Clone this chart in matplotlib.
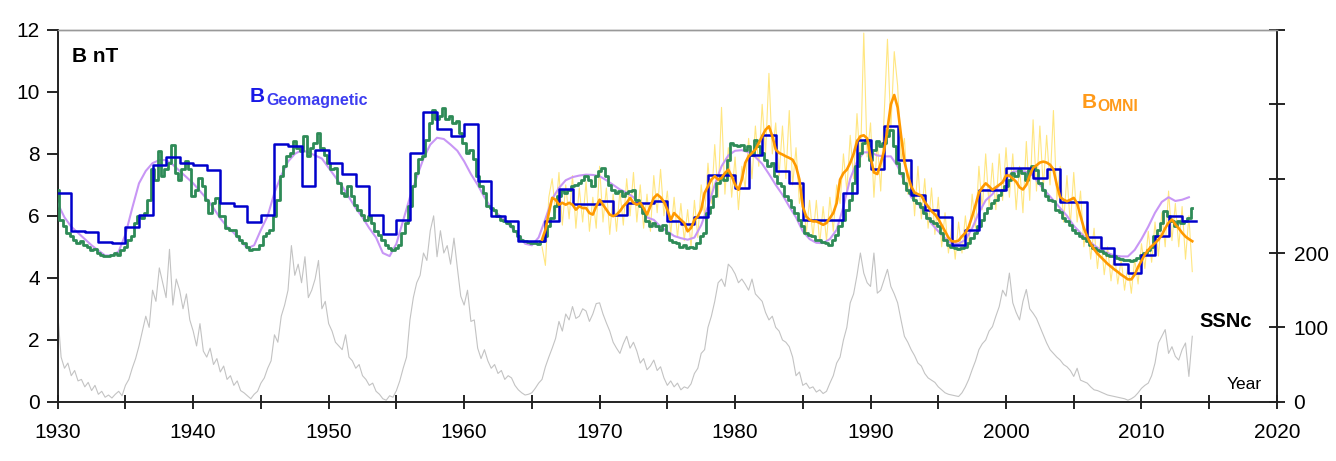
import numpy as np
import matplotlib
matplotlib.use("Agg")
import matplotlib.pyplot as plt

plt.rcParams['font.family'] = ['Liberation Sans', 'DejaVu Sans']

# ---------------- data ----------------
# Annual geomagnetic B (blue steps), one value per year 1930..2013
blue_years = list(range(1930, 2014))
blue_vals = [6.74, 5.52, 5.47, 5.17, 5.12, 5.63, 6.04, 7.65, 7.89, 7.71,
             7.65, 7.49, 6.43, 6.33, 5.79, 6.04, 8.33, 8.27, 6.95, 8.12,
             7.71, 7.35, 6.97, 6.02, 5.40, 5.85, 8.03, 9.34, 8.81, 8.58,
             8.97, 7.14, 5.98, 5.82, 5.20, 5.20, 5.84, 6.87, 6.38, 6.38,
             6.47, 6.04, 6.41, 6.42, 6.47, 5.82, 5.75, 5.96, 7.33, 7.33,
             6.90, 7.98, 8.60, 7.44, 7.05, 5.87, 5.87, 5.87, 6.74, 8.46,
             7.51, 8.89, 7.79, 6.68, 6.20, 5.96, 5.07, 5.53, 6.82, 6.82,
             7.55, 7.55, 7.21, 7.51, 6.45, 6.45, 5.33, 4.97, 4.45, 4.17,
             4.74, 5.34, 6.00, 5.82]

# Geomagnetic B, finer resolution (green), quarterly 1930.0..2013.75
green_start, green_step = 1930.0, 0.25
green_vals = [
    6.85, 5.88, 5.66, 5.45, 5.34, 5.23, 5.12, 5.18, 5.07, 5.01, 4.91, 4.93,
    4.80, 4.75, 4.69, 4.69, 4.75, 4.80, 4.75, 4.91, 5.01, 5.23, 5.34, 5.77,
    5.99, 5.93, 6.09, 6.52, 7.50, 7.17, 8.09, 7.28, 7.50, 7.71, 8.30, 7.39,
    7.17, 7.50, 7.76, 7.50, 6.63, 6.85, 7.22, 6.96, 6.52, 6.09, 6.42, 6.58,
    5.99, 5.99, 5.61, 5.55, 5.55, 5.34, 5.23, 5.12, 5.01, 4.91, 4.93, 4.93,
    5.07, 5.34, 5.45, 5.55, 5.99, 6.52, 7.28, 7.60, 7.92, 8.03, 8.41, 8.19,
    8.09, 8.57, 7.92, 8.19, 8.36, 8.68, 8.19, 7.98, 7.71, 7.50, 7.55, 7.06,
    6.74, 6.63, 6.96, 6.63, 6.36, 6.20, 6.04, 5.88, 5.99, 5.77, 5.50, 5.39,
    5.23, 5.07, 4.96, 4.91, 4.96, 5.07, 5.45, 5.77, 6.31, 6.96, 7.39, 7.82,
    7.92, 8.46, 9.00, 9.43, 9.11, 9.22, 9.49, 9.11, 9.22, 9.00, 9.06, 8.68,
    8.36, 8.03, 8.14, 7.82, 7.28, 6.96, 6.74, 6.31, 6.25, 6.20, 5.99, 5.88,
    5.82, 5.77, 5.66, 5.50, 5.34, 5.23, 5.18, 5.14, 5.12, 5.12, 5.10, 5.18,
    5.34, 5.66, 5.93, 6.31, 6.63, 6.85, 6.74, 6.85, 6.96, 7.01, 7.06, 7.17,
    7.28, 7.17, 6.96, 7.28, 7.44, 7.55, 7.28, 7.01, 6.85, 6.74, 6.79, 6.63,
    6.74, 6.79, 6.85, 6.52, 6.31, 6.09, 5.82, 5.66, 5.77, 5.66, 5.55, 5.71,
    5.44, 5.23, 5.17, 5.12, 5.01, 5.07, 4.96, 5.01, 4.96, 5.12, 5.34, 5.44,
    6.09, 6.30, 6.63, 7.06, 7.28, 7.17, 7.81, 8.35, 8.30, 8.25, 8.30, 8.14,
    8.25, 7.98, 8.46, 8.25, 8.03, 7.81, 7.60, 7.71, 7.28, 7.06, 6.95, 6.63,
    6.52, 6.30, 6.09, 5.87, 5.66, 5.44, 5.39, 5.34, 5.23, 5.23, 5.17, 5.12,
    5.07, 5.23, 5.39, 5.66, 5.87, 6.20, 6.52, 7.06, 7.60, 8.03, 8.35, 8.46,
    7.81, 8.14, 8.41, 8.25, 8.35, 8.57, 8.78, 8.25, 7.71, 7.38, 7.06, 6.84,
    6.74, 6.52, 6.41, 6.30, 6.09, 5.93, 5.82, 5.77, 5.66, 5.44, 5.23, 5.07,
    5.01, 4.96, 4.93, 4.96, 5.01, 5.12, 5.28, 5.44, 5.66, 5.87, 6.09, 6.25,
    6.41, 6.52, 6.68, 6.84, 6.95, 7.17, 7.38, 7.28, 7.49, 7.38, 7.17, 7.49,
    7.60, 7.49, 7.06, 6.84, 6.63, 6.52, 6.47, 6.20, 6.14, 5.93, 5.82, 5.72,
    5.55, 5.45, 5.34, 5.28, 5.18, 5.07, 4.96, 4.91, 4.85, 4.80, 4.75, 4.69,
    4.69, 4.64, 4.62, 4.58, 4.56, 4.53, 4.56, 4.64, 4.75, 4.80, 4.91, 5.01,
    5.34, 5.55, 5.77, 6.15, 5.99, 5.82, 5.66, 5.82, 5.77, 5.82, 5.93, 6.25]

# Smooth geomagnetic B (purple), half-yearly 1930.0..2013.5
purple_start, purple_step = 1930.0, 0.5
purple_vals = [
    6.40, 5.95, 5.65, 5.45, 5.25, 5.05, 4.88, 4.72, 4.72, 4.85,
    5.40, 6.25, 7.05, 7.45, 7.70, 7.80, 7.80, 7.65, 7.45, 7.25,
    7.05, 6.80, 6.55, 6.25, 5.92, 5.65, 5.45, 5.20, 4.95, 5.05,
    5.55, 6.00, 6.75, 7.30, 7.75, 8.00, 8.12, 8.05, 7.95, 7.85,
    7.55, 7.25, 6.95, 6.60, 6.25, 5.95, 5.60, 5.30, 4.80, 4.70,
    5.10, 5.85, 6.60, 7.25, 7.85, 8.30, 8.52, 8.48, 8.30, 8.10,
    7.76, 7.35, 7.00, 6.60, 6.25, 6.05, 5.87, 5.62, 5.39, 5.10,
    5.05, 5.30, 5.90, 6.55, 6.90, 7.15, 7.25, 7.30, 7.33, 7.32,
    7.28, 7.15, 7.00, 6.85, 6.75, 6.60, 6.35, 5.95, 5.87, 5.65,
    5.50, 5.35, 5.28, 5.23, 5.30, 5.70, 6.30, 7.00, 7.60, 7.95,
    8.10, 8.12, 8.05, 7.90, 7.68, 7.35, 7.00, 6.68, 6.30, 5.95,
    5.50, 5.25, 5.13, 5.12, 5.25, 5.55, 6.30, 7.20, 7.75, 8.05,
    8.05, 7.95, 7.92, 7.92, 7.60, 7.10, 6.60, 6.40, 6.10, 5.75,
    5.50, 5.28, 5.10, 5.10, 5.22, 5.60, 6.10, 6.50, 6.70, 7.00,
    7.20, 7.42, 7.45, 7.42, 7.30, 7.00, 6.75, 6.50, 6.25, 6.00,
    5.68, 5.45, 5.23, 5.05, 4.90, 4.80, 4.72, 4.69, 4.69, 4.90,
    5.25, 5.65, 6.10, 6.45, 6.60, 6.48, 6.52, 6.60]

# OMNI B smoothed (orange) and monthly-ish (yellow), quarterly 1965.75..2013.75
omni_start, omni_step = 1965.75, 0.25
orange_vals = [
    5.23,
    5.55, 6.09, 6.58, 6.52, 6.36, 6.42, 6.36, 6.42, 6.36, 6.20, 6.31, 6.25,
    6.25, 6.09, 6.04, 6.31, 6.52, 6.36, 6.20, 6.04, 5.99, 6.04, 6.15, 6.31,
    6.42, 6.58, 6.42, 6.36, 6.42, 6.25, 6.04, 6.31, 6.58, 6.69, 6.60, 6.45,
    6.20, 5.87, 6.09, 5.98, 5.87, 5.77, 5.50, 5.61, 5.87, 5.98, 6.20, 6.74,
    6.95, 7.17, 7.28, 7.17, 7.22, 7.38, 7.49, 7.28, 7.01, 6.84, 7.17, 7.71,
    7.92, 8.03, 8.14, 8.35, 8.57, 8.78, 8.89, 8.57, 8.14, 8.03, 7.98, 7.92,
    7.87, 7.81, 7.60, 7.17, 6.30, 5.98, 5.87, 5.82, 5.82, 5.77, 5.71, 5.77,
    5.93, 6.09, 6.41, 7.17, 7.38, 7.49, 7.71, 8.00, 8.40, 8.57, 8.60, 8.50,
    7.90, 7.40, 7.35, 7.70, 8.10, 8.80, 9.60, 9.90, 9.50, 8.60, 7.75, 7.30,
    6.95, 6.75, 6.70, 6.65, 6.45, 6.30, 6.15, 6.05, 5.90, 5.70, 5.50, 5.30,
    5.18, 5.17, 5.20, 5.34, 5.45, 5.65, 5.98, 6.35, 6.75, 6.92, 7.05, 6.95,
    6.84, 6.92, 7.00, 7.08, 7.30, 7.30, 7.20, 7.10, 6.92, 6.85, 7.00, 7.30,
    7.55, 7.63, 7.72, 7.75, 7.72, 7.65, 7.50, 7.00, 6.60, 6.52, 6.47, 6.52,
    6.58, 6.40, 6.00, 5.60, 5.32, 5.10, 4.92, 4.78, 4.67, 4.56, 4.45, 4.36,
    4.27, 4.19, 4.10, 4.03, 3.95, 3.95, 4.10, 4.35, 4.55, 4.75, 4.90, 5.02,
    5.12, 5.23, 5.38, 5.60, 5.78, 5.88, 5.72, 5.60, 5.45, 5.33, 5.25, 5.18]
yellow_vals = [
    5.00,
    4.40, 6.60, 7.20, 6.10, 7.40, 5.70, 7.00, 5.90, 7.30, 5.60, 6.90, 5.80,
    7.10, 5.50, 6.60, 5.60, 7.60, 5.80, 6.90, 5.40, 6.70, 5.50, 6.80, 5.70,
    7.20, 6.00, 7.40, 5.80, 7.00, 5.60, 6.70, 5.50, 7.30, 6.10, 7.50, 6.00,
    6.80, 5.40, 6.60, 5.30, 6.40, 5.20, 6.20, 5.00, 6.50, 5.30, 7.00, 6.00,
    7.70, 6.40, 8.30, 6.60, 9.50, 6.70, 8.20, 6.60, 7.90, 6.20, 7.60, 6.90,
    8.50, 7.20, 8.90, 7.60, 9.60, 8.00, 10.60, 8.00, 9.00, 7.30, 8.90, 7.20,
    9.40, 7.00, 8.20, 6.40, 7.00, 5.40, 6.50, 5.30, 6.50, 5.10, 6.30, 5.20,
    6.60, 5.50, 7.00, 6.40, 8.00, 6.80, 8.60, 7.20, 9.30, 7.60, 11.90, 7.90,
    9.00, 6.60, 8.40, 6.80, 9.20, 11.70, 8.80, 11.30, 10.20, 7.80, 8.50, 6.70,
    7.80, 6.00, 7.60, 5.90, 7.20, 5.60, 6.90, 5.40, 6.60, 5.00, 6.10, 4.80,
    5.70, 4.60, 5.80, 4.80, 6.00, 5.00, 6.70, 5.60, 7.60, 6.20, 8.00, 6.30,
    7.70, 6.20, 8.00, 6.50, 8.20, 6.60, 8.00, 6.20, 7.60, 6.10, 8.40, 6.50,
    9.10, 6.80, 8.90, 6.90, 8.60, 7.00, 9.40, 6.50, 7.60, 5.80, 7.30, 5.70,
    7.40, 5.80, 6.80, 5.00, 5.90, 4.60, 5.60, 4.30, 5.30, 4.10, 5.00, 3.90,
    4.80, 3.80, 4.60, 3.60, 4.40, 3.50, 4.60, 3.80, 5.10, 4.30, 5.50, 4.50,
    5.80, 4.70, 6.10, 5.00, 6.80, 5.20, 6.40, 5.00, 6.30, 4.60, 6.00, 4.20]

# Sunspot number SSNc (grey, right axis), quarterly 1930.0..2013.75
ssn_start, ssn_step = 1930.0, 0.25
ssn_vals = [
    120, 60, 45, 52, 35, 42, 28, 30, 20, 26, 15, 22,
    10, 14, 6, 9, 5, 10, 14, 8, 22, 30, 45, 58,
    75, 95, 115, 100, 150, 135, 180, 160, 140, 205, 130, 165,
    150, 125, 145, 110, 95, 75, 105, 68, 60, 72, 50, 58,
    40, 48, 30, 35, 22, 28, 15, 12, 8, 4, 10, 14,
    25, 32, 45, 55, 90, 80, 115, 130, 150, 210, 170, 185,
    160, 195, 140, 150, 165, 190, 125, 135, 105, 95, 80, 75,
    70, 90, 60, 55, 45, 50, 35, 30, 22, 25, 14, 10,
    4, 2, 8, 6, 15, 28, 45, 60, 110, 140, 160, 170,
    200, 190, 230, 250, 195, 230, 200, 210, 185, 220, 180, 142,
    130, 150, 108, 110, 72, 58, 70, 55, 45, 50, 38, 42,
    30, 35, 32, 22, 16, 12, 9, 10, 12, 18, 25, 30,
    47, 60, 72, 85, 108, 95, 118, 110, 128, 112, 115, 125,
    122, 108, 118, 132, 133, 118, 106, 95, 80, 72, 65, 78,
    88, 72, 80, 68, 52, 58, 43, 48, 56, 42, 47, 32,
    22, 28, 20, 25, 16, 20, 18, 24, 38, 45, 65, 70,
    100, 115, 135, 160, 165, 155, 185, 180, 172, 160, 165, 158,
    150, 165, 145, 140, 135, 120, 110, 115, 100, 95, 83, 80,
    74, 60, 35, 40, 22, 25, 18, 20, 13, 16, 11, 14,
    25, 35, 52, 60, 83, 100, 133, 145, 170, 200, 173, 160,
    155, 200, 146, 150, 164, 178, 155, 145, 133, 110, 88, 80,
    70, 62, 52, 48, 38, 32, 29, 26, 20, 16, 12, 10,
    9, 8, 7, 12, 20, 30, 43, 55, 70, 78, 83, 95,
    101, 115, 128, 150, 142, 173, 133, 120, 110, 135, 151, 125,
    119, 112, 101, 90, 79, 70, 65, 60, 56, 50, 47, 42,
    34, 45, 29, 27, 25, 20, 16, 15, 13, 11, 9, 8,
    7, 6, 5, 4, 2, 4, 7, 12, 18, 22, 25, 35,
    52, 79, 88, 97, 65, 74, 61, 56, 70, 79, 34, 88]

x_ticks = [1930, 1940, 1950, 1960, 1970, 1980, 1990, 2000, 2010, 2020]
y_ticks = [0, 2, 4, 6, 8, 10, 12]
ssn_ticks = [0, 100, 200, 300, 400, 500]
ssn_ticklabels = ['0', '100', '200', '', '', '']


def grid(start, step, vals):
    return start + step * np.arange(len(vals))


# ---------------- figure ----------------
fig = plt.figure(figsize=(13.36, 4.61), dpi=100)
ax = fig.add_axes([0.0432, 0.1286, 0.9126, 0.8064])
ax2 = ax.twinx()

# SSN on the secondary axis (drawn beneath)
ax2.plot(grid(ssn_start, ssn_step, ssn_vals), ssn_vals, color='#c3c3c3', lw=0.8, zorder=1)
ax2.set_ylim(0, 500)
ax2.set_yticks(ssn_ticks)
ax2.set_yticklabels(ssn_ticklabels)
ax2.tick_params(axis='y', direction='inout', length=12, width=1.2, labelsize=15, pad=6)
ax.set_zorder(ax2.get_zorder() + 1)
ax.patch.set_visible(False)

# B curves
ax.plot(grid(omni_start, omni_step, yellow_vals), yellow_vals, color='#ffe680', lw=0.8, zorder=2)
ax.plot(grid(purple_start, purple_step, purple_vals), purple_vals, color='#c896f5', lw=1.5, zorder=3)
ax.plot(grid(green_start, green_step, green_vals), green_vals, color='#2e8b57', lw=2.0,
        drawstyle='steps-mid', zorder=4)
ax.step(blue_years + [blue_years[-1] + 1], blue_vals + [blue_vals[-1]], where='post',
        color='#0000cc', lw=1.8, zorder=5)
ax.plot(grid(omni_start, omni_step, orange_vals), orange_vals, color='#ff9900', lw=1.9, zorder=6)

ax.set_xlim(1930, 2020)
ax.set_ylim(0, 12)
ax.set_xticks(x_ticks)
ax.set_xticks([t + 5 for t in x_ticks[:-1]], minor=True)
ax.set_yticks(y_ticks)
ax.tick_params(axis='x', which='both', direction='inout', length=10, width=1.2,
               labelsize=15, pad=10)
ax.tick_params(axis='y', direction='out', length=8, width=1.2, labelsize=15, pad=5)

for a in (ax, ax2):
    a.spines['top'].set_color('#999999')
    a.spines['top'].set_linewidth(1.0)
    for s in ('left', 'right', 'bottom'):
        a.spines[s].set_color('#222222')
        a.spines[s].set_linewidth(1.2)

# annotations
ax.text(1931.05, 11.14, 'B nT', fontsize=15, fontweight='bold', color='black',
        va='center', ha='left', zorder=10)
tb = ax.text(1944.2, 9.85, 'B', fontsize=15, fontweight='bold', color='#1a1ae6',
             va='center', ha='left', zorder=10)
ax.annotate('Geomagnetic', xy=(1.0, 0.0), xycoords=tb, xytext=(0.5, -1.5),
            textcoords='offset points', fontsize=11.5, fontweight='bold',
            color='#3c3cf0', va='bottom', ha='left', zorder=10)
to = ax.text(2005.6, 9.67, 'B', fontsize=15, fontweight='bold', color='#ff9a1a',
             va='center', ha='left', zorder=10)
ax.annotate('OMNI', xy=(1.0, 0.0), xycoords=to, xytext=(0.5, -1.5),
            textcoords='offset points', fontsize=11.3, fontweight='bold',
            color='#ff9a1a', va='bottom', ha='left', zorder=10)
ax.text(2014.25, 2.58, 'SSNc', fontsize=14.5, fontweight='bold', color='black',
        va='center', ha='left', zorder=10)
ax.text(2016.3, 0.54, 'Year', fontsize=12.5, color='black', va='center', ha='left', zorder=10)

fig.savefig('out.png', dpi=100)
